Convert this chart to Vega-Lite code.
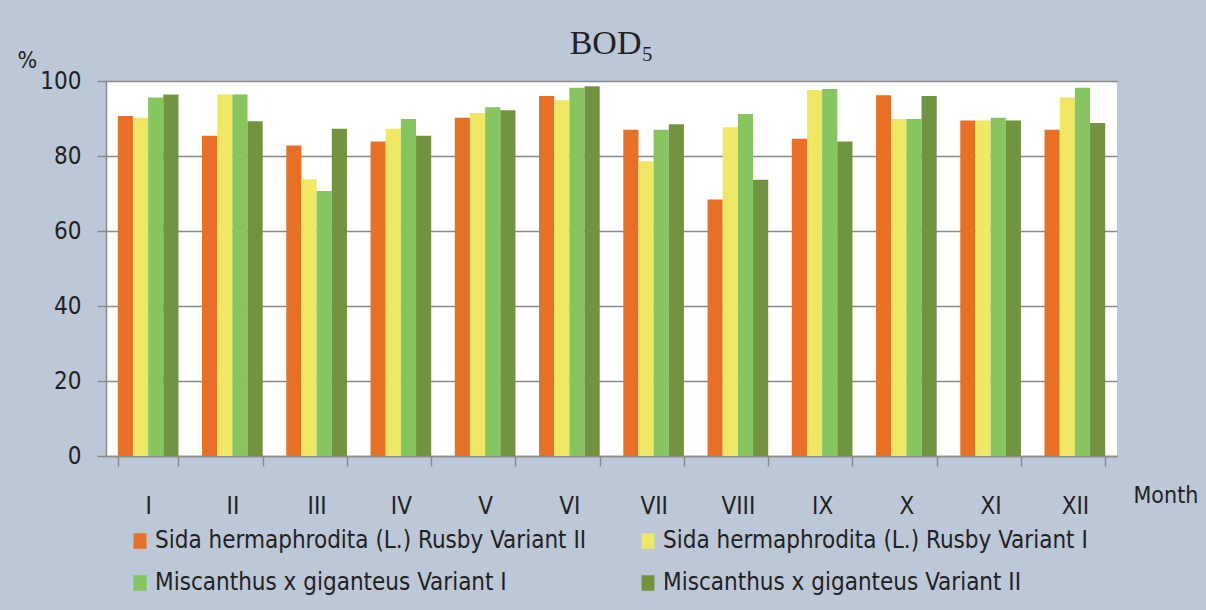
{
  "$schema": "https://vega.github.io/schema/vega-lite/v6.json",
  "width": 1011,
  "height": 375,
  "autosize": {"type": "none"},
  "padding": {"left": 106, "top": 81, "right": 89, "bottom": 154},
  "background": "#bcc7d7",
  "title": {"text": "BOD₅", "font": "Liberation Serif", "fontSize": 34, "fontWeight": "normal", "color": "#222222", "offset": -12, "anchor": "middle"},
  "data": {"values": [
    {"month": "I", "series": "Sida hermaphrodita (L.) Rusby Variant II", "value": 90.7},
    {"month": "I", "series": "Sida hermaphrodita (L.) Rusby Variant I", "value": 90.2},
    {"month": "I", "series": "Miscanthus x giganteus Variant I", "value": 95.6},
    {"month": "I", "series": "Miscanthus x giganteus Variant II", "value": 96.4},
    {"month": "II", "series": "Sida hermaphrodita (L.) Rusby Variant II", "value": 85.4},
    {"month": "II", "series": "Sida hermaphrodita (L.) Rusby Variant I", "value": 96.4},
    {"month": "II", "series": "Miscanthus x giganteus Variant I", "value": 96.4},
    {"month": "II", "series": "Miscanthus x giganteus Variant II", "value": 89.3},
    {"month": "III", "series": "Sida hermaphrodita (L.) Rusby Variant II", "value": 82.8},
    {"month": "III", "series": "Sida hermaphrodita (L.) Rusby Variant I", "value": 73.8},
    {"month": "III", "series": "Miscanthus x giganteus Variant I", "value": 70.7},
    {"month": "III", "series": "Miscanthus x giganteus Variant II", "value": 87.3},
    {"month": "IV", "series": "Sida hermaphrodita (L.) Rusby Variant II", "value": 83.9},
    {"month": "IV", "series": "Sida hermaphrodita (L.) Rusby Variant I", "value": 87.3},
    {"month": "IV", "series": "Miscanthus x giganteus Variant I", "value": 89.9},
    {"month": "IV", "series": "Miscanthus x giganteus Variant II", "value": 85.4},
    {"month": "V", "series": "Sida hermaphrodita (L.) Rusby Variant II", "value": 90.2},
    {"month": "V", "series": "Sida hermaphrodita (L.) Rusby Variant I", "value": 91.5},
    {"month": "V", "series": "Miscanthus x giganteus Variant I", "value": 93.0},
    {"month": "V", "series": "Miscanthus x giganteus Variant II", "value": 92.2},
    {"month": "VI", "series": "Sida hermaphrodita (L.) Rusby Variant II", "value": 96.0},
    {"month": "VI", "series": "Sida hermaphrodita (L.) Rusby Variant I", "value": 94.9},
    {"month": "VI", "series": "Miscanthus x giganteus Variant I", "value": 98.2},
    {"month": "VI", "series": "Miscanthus x giganteus Variant II", "value": 98.6},
    {"month": "VII", "series": "Sida hermaphrodita (L.) Rusby Variant II", "value": 87.0},
    {"month": "VII", "series": "Sida hermaphrodita (L.) Rusby Variant I", "value": 78.6},
    {"month": "VII", "series": "Miscanthus x giganteus Variant I", "value": 87.0},
    {"month": "VII", "series": "Miscanthus x giganteus Variant II", "value": 88.5},
    {"month": "VIII", "series": "Sida hermaphrodita (L.) Rusby Variant II", "value": 68.4},
    {"month": "VIII", "series": "Sida hermaphrodita (L.) Rusby Variant I", "value": 87.7},
    {"month": "VIII", "series": "Miscanthus x giganteus Variant I", "value": 91.2},
    {"month": "VIII", "series": "Miscanthus x giganteus Variant II", "value": 73.7},
    {"month": "IX", "series": "Sida hermaphrodita (L.) Rusby Variant II", "value": 84.6},
    {"month": "IX", "series": "Sida hermaphrodita (L.) Rusby Variant I", "value": 97.6},
    {"month": "IX", "series": "Miscanthus x giganteus Variant I", "value": 97.9},
    {"month": "IX", "series": "Miscanthus x giganteus Variant II", "value": 83.9},
    {"month": "X", "series": "Sida hermaphrodita (L.) Rusby Variant II", "value": 96.2},
    {"month": "X", "series": "Sida hermaphrodita (L.) Rusby Variant I", "value": 89.9},
    {"month": "X", "series": "Miscanthus x giganteus Variant I", "value": 89.9},
    {"month": "X", "series": "Miscanthus x giganteus Variant II", "value": 96.0},
    {"month": "XI", "series": "Sida hermaphrodita (L.) Rusby Variant II", "value": 89.5},
    {"month": "XI", "series": "Sida hermaphrodita (L.) Rusby Variant I", "value": 89.5},
    {"month": "XI", "series": "Miscanthus x giganteus Variant I", "value": 90.2},
    {"month": "XI", "series": "Miscanthus x giganteus Variant II", "value": 89.5},
    {"month": "XII", "series": "Sida hermaphrodita (L.) Rusby Variant II", "value": 87.0},
    {"month": "XII", "series": "Sida hermaphrodita (L.) Rusby Variant I", "value": 95.6},
    {"month": "XII", "series": "Miscanthus x giganteus Variant I", "value": 98.2},
    {"month": "XII", "series": "Miscanthus x giganteus Variant II", "value": 88.8}
  ]},
  "mark": {"type": "bar"},
  "encoding": {
    "x": {
      "field": "month", "type": "nominal",
      "sort": ["I", "II", "III", "IV", "V", "VI", "VII", "VIII", "IX", "X", "XI", "XII"],
      "scale": {"paddingInner": 0.28, "paddingOuter": 0.14},
      "axis": {
        "labelAngle": 0, "labelFont": "DejaVu Sans Condensed, sans-serif", "labelFontSize": 24, "labelColor": "#222222",
        "labelPadding": 28, "tickSize": 10, "tickBand": "extent", "tickColor": "#8a8a8a", "tickWidth": 1.5,
        "domainColor": "#8a8a8a", "domainWidth": 1.5,
        "title": "Month", "titleFont": "DejaVu Sans Condensed, sans-serif", "titleFontSize": 23, "titleFontWeight": "normal", "titleColor": "#222222",
        "titleX": 1027, "titleY": 39, "titleAlign": "left", "titleBaseline": "middle"
      }
    },
    "xOffset": {"field": "series", "type": "nominal", "sort": ["Sida hermaphrodita (L.) Rusby Variant II", "Sida hermaphrodita (L.) Rusby Variant I", "Miscanthus x giganteus Variant I", "Miscanthus x giganteus Variant II"]},
    "y": {
      "field": "value", "type": "quantitative",
      "scale": {"domain": [0, 100]},
      "axis": {
        "values": [0, 20, 40, 60, 80, 100], "grid": true, "gridColor": "#8a8a8a", "gridWidth": 1.5,
        "labelFont": "DejaVu Sans Condensed, sans-serif", "labelFontSize": 24, "labelColor": "#222222", "labelPadding": 16,
        "tickSize": 9, "tickColor": "#8a8a8a", "tickWidth": 1.5, "domainColor": "#8a8a8a", "domainWidth": 1.5,
        "title": "%", "titleAngle": 0, "titleX": -89, "titleY": -21, "titleAlign": "left", "titleBaseline": "middle",
        "titleFont": "DejaVu Sans Condensed, sans-serif", "titleFontSize": 23, "titleFontWeight": "normal", "titleColor": "#222222"
      }
    },
    "color": {
      "field": "series", "type": "nominal",
      "sort": ["Sida hermaphrodita (L.) Rusby Variant II", "Sida hermaphrodita (L.) Rusby Variant I", "Miscanthus x giganteus Variant I", "Miscanthus x giganteus Variant II"],
      "scale": {
        "domain": ["Sida hermaphrodita (L.) Rusby Variant II", "Sida hermaphrodita (L.) Rusby Variant I", "Miscanthus x giganteus Variant I", "Miscanthus x giganteus Variant II"],
        "range": ["#e87024", "#eee865", "#86c55f", "#729441"]
      },
      "legend": {
        "orient": "none", "legendX": 22, "legendY": 448, "columns": 2, "direction": "horizontal", "title": null,
        "labelFont": "DejaVu Sans Condensed, sans-serif", "labelFontSize": 24, "labelColor": "#222222", "labelLimit": 600,
        "symbolType": "M-1,-1.2H1V1.2H-1Z", "symbolSize": 169, "symbolStrokeWidth": 0, "symbolOpacity": 1, "labelOffset": 3,
        "columnPadding": 49, "rowPadding": 18
      }
    }
  },
  "config": {"view": {"fill": "white", "stroke": null}}
}
